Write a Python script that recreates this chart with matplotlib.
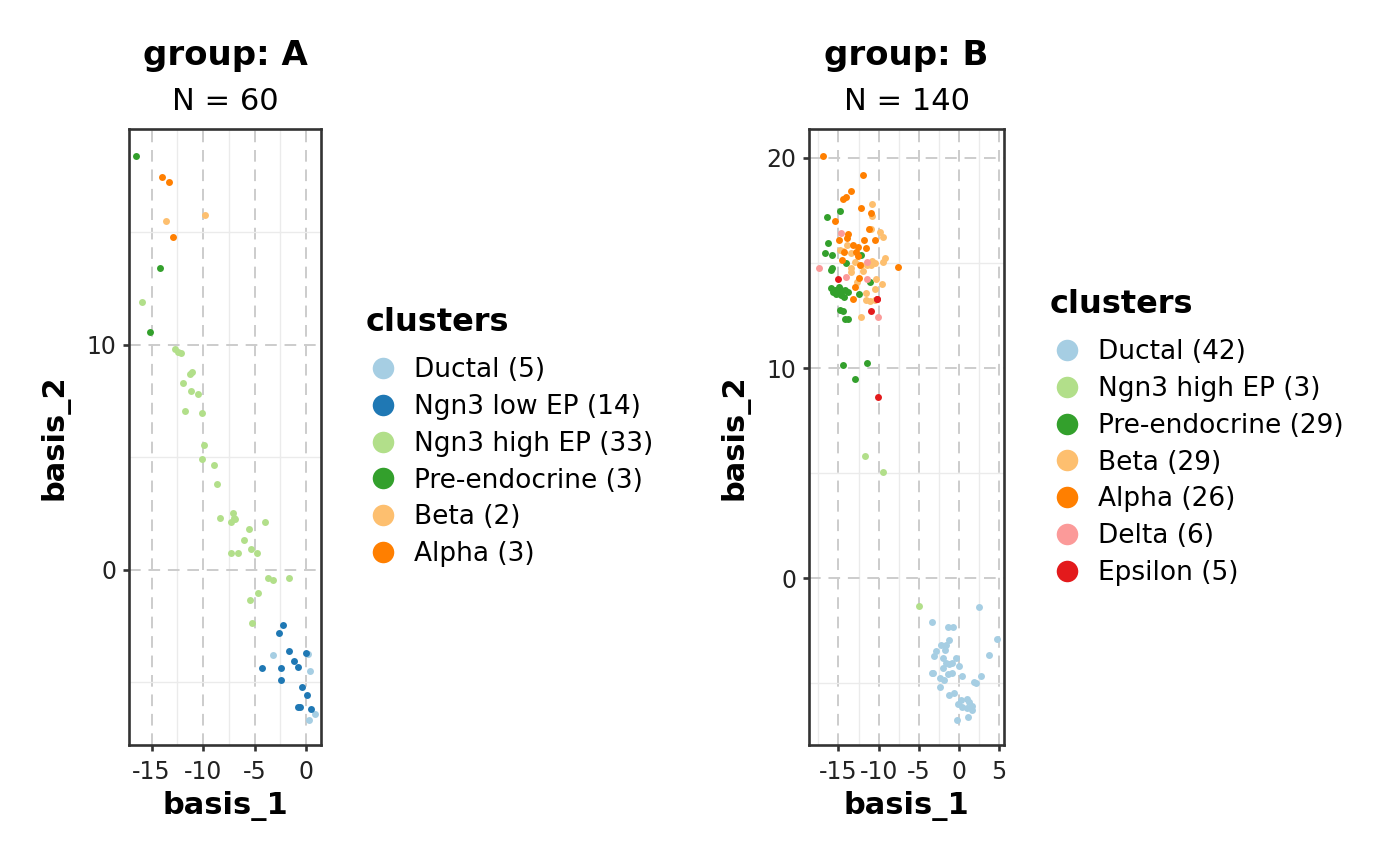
import matplotlib
matplotlib.use("Agg")
import matplotlib.pyplot as plt
from matplotlib.lines import Line2D

# ---------------- data ----------------
colors = {
    "Ductal": "#a6cee3", "Ngn3 low EP": "#1f78b4", "Ngn3 high EP": "#b2df8a",
    "Pre-endocrine": "#33a02c", "Beta": "#fdbf6f", "Alpha": "#ff7f00",
    "Delta": "#fb9a99", "Epsilon": "#e31a1c",
}

# group A
ductal_A_x = [-3.18, 0.23, 0.42, 0.84, 0.26]
ductal_A_y = [-3.78, -3.73, -4.50, -6.41, -6.67]
ngn3low_A_x = [-2.21, -2.63, -1.62, -1.14, -0.78, -4.26, -2.43, -2.40, 0.0, -0.39, 0.06, -0.78, -0.58, 0.45]
ngn3low_A_y = [-2.43, -2.79, -3.61, -4.03, -4.31, -4.36, -4.36, -4.90, -3.70, -5.20, -5.54, -6.10, -6.10, -6.18]
ngn3high_A_x = [-15.9, -12.76, -12.11, -11.03, -11.23, -11.91, -11.13, -10.52, -11.75, -10.09,
                -9.93, -10.13, -8.93, -8.6, -8.37, -7.14, -6.91, -7.30, -4.02, -5.52, -6.04,
                -5.33, -7.30, -6.59, -4.74, -3.67, -3.21, -1.69, -4.71, -5.48, -5.29, -12.4, -6.95]
ngn3high_A_y = [11.91, 9.82, 9.66, 8.81, 8.70, 8.33, 7.96, 7.84, 7.07, 6.96,
                5.57, 4.92, 4.68, 3.84, 2.33, 2.55, 2.27, 2.12, 2.13, 1.84, 1.33,
                0.95, 0.76, 0.76, 0.76, -0.36, -0.44, -0.37, -1.02, -1.33, -2.37, 9.7, 2.3]
preendo_A_x = [-16.52, -14.15, -15.16]
preendo_A_y = [18.4, 13.41, 10.56]
beta_A_x = [-13.63, -9.83]
beta_A_y = [15.51, 15.76]
alpha_A_x = [-14.02, -13.31, -12.92]
alpha_A_y = [17.48, 17.26, 14.79]

# group B
ductal_B_x = [2.49, -3.32, -1.33, -0.71, 4.69, -1.24, -2.24, -1.74, -2.90, -3.11, -2.03, -0.41, 3.73,
              -1.65, -0.91, -1.20, 0.00, -1.95, -3.40, -3.20, -0.91, -1.33, 0.33, 2.70, -2.36, -1.87,
              1.91, 2.11, -2.32, -1.28, -0.58, 0.95, -0.08, 0.33, 1.58, 1.66, 0.95, 1.08, -0.29,
              -1.60, 0.20, 1.30]
ductal_B_y = [-1.38, -2.10, -2.32, -2.32, -2.90, -2.94, -3.19, -3.43, -3.48, -3.71, -3.79, -3.83, -3.68,
              -4.06, -4.03, -4.11, -4.19, -4.30, -4.51, -4.54, -4.54, -4.57, -4.65, -4.67, -4.75, -4.86,
              -4.94, -4.98, -5.19, -5.59, -5.49, -5.78, -6.00, -6.16, -6.10, -6.29, -6.21, -6.60, -6.76,
              -3.20, -5.80, -5.90]
ngn3high_B_x = [-11.69, -9.49, -4.98]
ngn3high_B_y = [5.81, 5.06, -1.33]
preendo_B_x = [-14.76, -16.38, -16.26, -16.63, -15.76, -12.23, -14.02, -15.76, -15.88, -11.11,
               -15.96, -15.46, -14.96, -14.64, -14.22, -13.81, -15.26, -14.64, -15.67, -14.84,
               -14.30, -12.48, -14.76, -14.47, -14.14, -13.81, -14.47, -11.48, -12.90]
preendo_B_y = [17.48, 17.20, 15.97, 15.46, 15.38, 15.38, 14.98, 14.78, 14.67, 14.08,
               13.80, 13.71, 13.87, 13.63, 13.71, 13.63, 13.52, 13.48, 13.63, 13.75,
               13.40, 13.52, 12.76, 12.73, 12.32, 12.32, 10.13, 10.24, 9.48]
beta_B_x = [-10.86, -10.78, -10.99, -9.87, -9.49, -13.89, -14.43, -13.39, -9.17, -9.45,
            -12.97, -13.39, -12.15, -10.91, -10.41, -13.43, -12.65, -10.36, -9.58, -10.41,
            -11.53, -11.53, -11.11, -12.15, -14.80, -11.48, -10.86, -10.45, -11.90]
beta_B_y = [17.79, 17.22, 16.60, 16.49, 16.25, 15.84, 15.57, 15.46, 15.25, 15.06,
            15.06, 14.75, 14.90, 14.90, 14.98, 14.56, 14.11, 14.24, 13.99, 13.76,
            13.56, 13.24, 13.19, 12.41, 15.62, 14.90, 15.10, 13.24, 14.60]
alpha_B_x = [-16.92, -11.90, -13.39, -14.10, -14.39, -12.15, -10.99, -15.38, -13.77, -14.96,
             -11.78, -10.45, -13.15, -12.52, -11.53, -12.52, -14.51, -12.31, -7.63, -12.44,
             -12.90, -13.15, -13.90, -12.80, -14.30, -11.20]
alpha_B_y = [20.10, 19.20, 18.43, 18.13, 18.05, 17.63, 17.38, 17.02, 16.38, 16.08,
             16.11, 16.10, 15.86, 15.76, 15.71, 15.35, 15.14, 14.92, 14.79, 14.27,
             13.86, 13.30, 16.20, 15.50, 15.50, 16.60]
delta_B_x = [-14.68, -11.48, -17.45, -14.10, -11.48, -10.07]
delta_B_y = [16.41, 15.06, 14.78, 14.35, 14.24, 12.41]
epsilon_B_x = [-15.05, -10.16, -10.91, -10.07, -10.16]
epsilon_B_y = [14.24, 13.27, 12.71, 8.63, 13.27]

panel_A = [("Ductal", ductal_A_x, ductal_A_y), ("Ngn3 low EP", ngn3low_A_x, ngn3low_A_y),
           ("Ngn3 high EP", ngn3high_A_x, ngn3high_A_y), ("Pre-endocrine", preendo_A_x, preendo_A_y),
           ("Beta", beta_A_x, beta_A_y), ("Alpha", alpha_A_x, alpha_A_y)]
panel_B = [("Ductal", ductal_B_x, ductal_B_y), ("Ngn3 high EP", ngn3high_B_x, ngn3high_B_y),
           ("Pre-endocrine", preendo_B_x, preendo_B_y), ("Beta", beta_B_x, beta_B_y),
           ("Alpha", alpha_B_x, alpha_B_y), ("Delta", delta_B_x, delta_B_y),
           ("Epsilon", epsilon_B_x, epsilon_B_y)]

plt.rcParams['font.family'] = ['DejaVu Sans']
DARK = "#333333"

fig = plt.figure(figsize=(14, 8.66), dpi=100)

def make_panel(rect, groups, title, n, xlim, ylim, xticks, yticks, xminor, yminor, leg_anchor):
    ax = fig.add_axes(rect)
    ax.set_xlim(*xlim)
    ax.set_ylim(*ylim)
    ax.set_xticks(xticks)
    ax.set_yticks(yticks)
    ax.set_xticks(xminor, minor=True)
    ax.set_yticks(yminor, minor=True)
    ax.set_xticklabels([str(t) for t in xticks])
    ax.set_yticklabels([str(t) for t in yticks])
    ax.set_axisbelow(True)
    ax.grid(which='minor', color='#ebebeb', lw=1.0, ls='-')
    ax.grid(which='major', color='#cccccc', lw=1.4, ls=(0, (6, 4)))
    for sp in ax.spines.values():
        sp.set_color(DARK)
        sp.set_linewidth(1.9)
    ax.tick_params(which='major', length=4.5, width=1.9, color=DARK, labelsize=17,
                   labelcolor='#222222')
    ax.tick_params(axis='x', which='major', pad=6.5)
    ax.tick_params(axis='y', which='major', pad=4.5)
    ax.tick_params(which='minor', length=0)
    for name, xs, ys in groups:
        ax.scatter(xs, ys, s=25, color=colors[name], linewidths=0, zorder=3)
    ax.set_xlabel("basis_1", fontsize=22, fontweight='bold', labelpad=4.5)
    ax.set_ylabel("basis_2", fontsize=22, fontweight='bold', labelpad=12)
    ax.text(0.5, 1.0 + 74 / 616, title, transform=ax.transAxes, ha='center', va='center',
            fontsize=24.5, fontweight='bold')
    ax.text(0.5, 1.0 + 28 / 616, f"N = {n}", transform=ax.transAxes, ha='center', va='center',
            fontsize=22)
    handles = [Line2D([0], [0], marker='o', ls='', markersize=15.5, markeredgewidth=0,
                      color=colors[name]) for name, xs, ys in groups]
    labels = [f"{name} ({len(xs)})" for name, xs, ys in groups]
    leg = fig.legend(handles, labels, title="clusters", loc='upper left',
                     bbox_to_anchor=leg_anchor, bbox_transform=fig.transFigure,
                     frameon=False, fontsize=19, title_fontproperties={'weight': 'bold', 'size': 23},
                     alignment='left', handlelength=1.3, handletextpad=0.53, labelspacing=0.41,
                     borderpad=0, borderaxespad=0)
    leg._legend_box.sep = 0.41 * 19 + 6.0
    return ax

W, H = 1400, 866
make_panel([129 / W, 1 - 745 / H, 192 / W, 616 / H], panel_A, "group: A", 60,
           (-17.2, 1.46), (-7.78, 19.6), [-15, -10, -5, 0], [0, 10],
           [-12.5, -7.5, -2.5], [-5, 5, 15], (366 / W, 1 - 307 / H))
make_panel([809 / W, 1 - 745 / H, 195 / W, 616 / H], panel_B, "group: B", 140,
           (-18.66, 5.6), (-7.95, 21.38), [-15, -10, -5, 0, 5], [0, 10, 20],
           [-17.5, -12.5, -7.5, -2.5, 2.5], [-5, 5, 15], (1050 / W, 1 - 289 / H))

fig.savefig("out.png", dpi=100)
